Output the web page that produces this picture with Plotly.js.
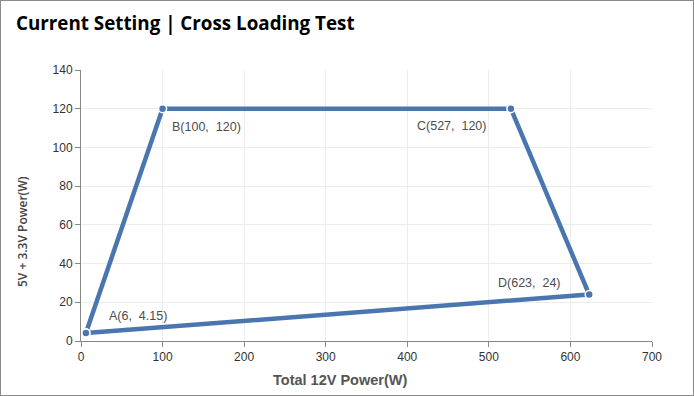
<!DOCTYPE html>
<html><head><meta charset="utf-8">
<script src="https://cdn.plot.ly/plotly-3.0.1.min.js"></script>
<style>html,body{margin:0;padding:0;background:#fff}#c{width:692px;height:394px;border:1px solid #8a8a8a}</style>
</head><body><div id="c"></div>
<script>
const pointNames = ['A', 'B', 'C', 'D'];
const totalPower12V = [6, 100, 527, 623];
const power5V33V = [4.15, 120, 120, 24];
const xTicks = [0, 100, 200, 300, 400, 500, 600, 700];
const yTicks = [0, 20, 40, 60, 80, 100, 120, 140];

const xs = totalPower12V.concat([totalPower12V[0]]);
const ys = power5V33V.concat([power5V33V[0]]);
const labelOffsets = [
  {xanchor:'left', xshift:21, yshift:17},
  {xanchor:'left', xshift:7, yshift:-18},
  {xanchor:'right', xshift:-23, yshift:-17},
  {xanchor:'right', xshift:-26, yshift:12}
];
const labelFont = {family:'Liberation Sans, Arial, sans-serif', size:12.5, color:'#4d4d4d'};
const annotations = pointNames.map((n,i)=>Object.assign({
  x: totalPower12V[i], y: power5V33V[i], xref:'x', yref:'y',
  text: n + '(' + totalPower12V[i] + ',  ' + power5V33V[i] + ')',
  showarrow:false, yanchor:'middle', font:labelFont
}, labelOffsets[i]));
annotations.push({
  text:'<b>Total 12V Power(W)</b>', xref:'paper', yref:'paper',
  x:(340-81)/571, y:-(380-341)/271, xanchor:'center', yanchor:'middle', showarrow:false,
  font:{family:'Liberation Sans, Arial, sans-serif', size:14.5, color:'#555'}
});
annotations.push({
  text:'5V + 3.3V Power(W)', xref:'paper', yref:'paper', textangle:-90,
  x:-(81-22)/571, y:(341-232)/271, xanchor:'center', yanchor:'middle', showarrow:false,
  font:{family:'Open Sans, sans-serif', size:12, color:'#444', weight:600}
});

const trace = {
  x: xs, y: ys, type:'scatter', mode:'lines+markers',
  line:{color:'#4a76b0', width:4.5},
  marker:{color:'#4a76b0', size:8, line:{color:'#fff', width:1.5}},
  hoverinfo:'none'
};
const axisCommon = {
  showline:true, linecolor:'#888', linewidth:1, ticks:'outside', ticklen:5, tickcolor:'#888',
  gridcolor:'#ececec', zeroline:false,
  tickfont:{family:'Liberation Sans, Arial, sans-serif', size:12, color:'#333'}
};
const layout = {
  width:692, height:394,
  margin:{l:80, r:41, t:69, b:54},
  paper_bgcolor:'#fff', plot_bgcolor:'#fff',
  showlegend:false,
  title:{text:'<b>Current Setting | Cross Loading Test</b>', x:15/692, xref:'container', xanchor:'left',
    y:1-22/394, yref:'container', yanchor:'middle',
    font:{family:'Open Sans, sans-serif', size:18.8, color:'#000'}},
  xaxis:Object.assign({}, axisCommon, {range:[0,700], tickvals:xTicks, ticktext:xTicks.map(String)}),
  yaxis:Object.assign({}, axisCommon, {range:[0,140], tickvals:yTicks, ticktext:yTicks.map(String)}),
  annotations: annotations
};
Plotly.newPlot('c', [trace], layout, {displayModeBar:false, staticPlot:true});
</script></body></html>
